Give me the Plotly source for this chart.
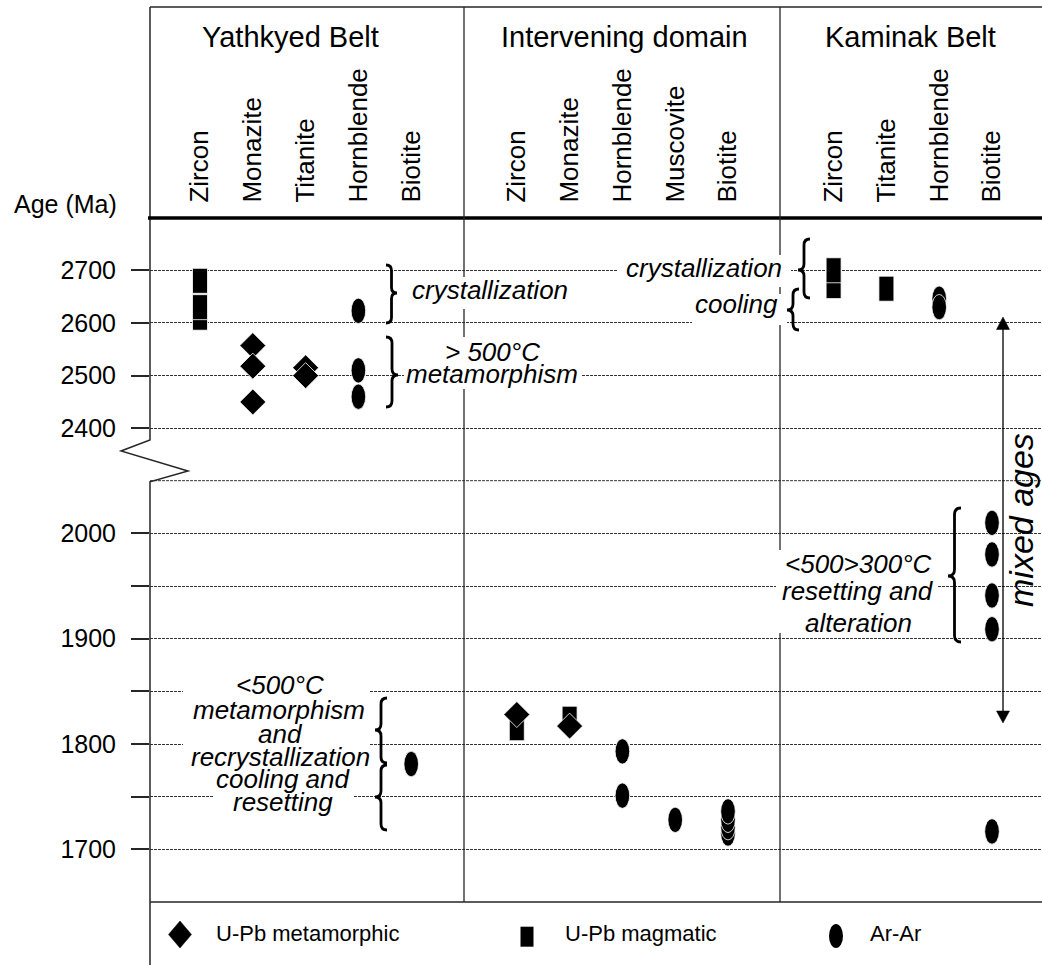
import plotly.graph_objects as go

W, H = 1042, 965
FONT = "Liberation Sans, Arial, Helvetica, sans-serif"
LINE = "#262626"

# ---------------- data ----------------
belts = ["Yathkyed Belt", "Intervening domain", "Kaminak Belt"]
minerals = ["Zircon", "Monazite", "Titanite", "Hornblende", "Biotite",
            "Zircon", "Monazite", "Hornblende", "Muscovite", "Biotite",
            "Zircon", "Titanite", "Hornblende", "Biotite"]
mineral_pos = [0, 1, 2, 3, 4, 6, 7, 8, 9, 10, 12, 13, 14, 15]

upper_ticks = [2400, 2500, 2600, 2700]
lower_ticks = [1700, 1750, 1800, 1850, 1900, 1950, 2000]
lower_ticktext = ["1700", "", "1800", "", "1900", "", "2000"]

# U-Pb magmatic (rectangles)
mag_col = [0, 0, 0, 12, 12, 13, 6, 7]
mag_age = [2610, 2630, 2680, 2670, 2700, 2665, 1815, 1824]
# U-Pb metamorphic (diamonds)
met_col = [1, 1, 1, 2, 2, 6, 7]
met_age = [2557, 2518, 2450, 2515, 2500, 1828, 1817]
# Ar-Ar (ellipses)
ar_col = [3, 3, 3, 4, 8, 8, 9, 10, 10, 10, 10, 14, 14, 15, 15, 15, 15, 15]
ar_age = [2623, 2510, 2460, 1781, 1793, 1751, 1728, 1715, 1721, 1728, 1736,
          2646, 2630, 2010, 1980, 1941, 1909, 1717]

BREAK = 2300  # ages above go on the upper (compressed) axis


def PX(x):
    return x / W


def PY(y):
    return 1 - y / H


fig = go.Figure()

# diamonds as traces
for upper in (True, False):
    xs = [c for c, a in zip(met_col, met_age) if (a > BREAK) == upper]
    ys = [a for a in met_age if (a > BREAK) == upper]
    fig.add_trace(go.Scatter(
        x=xs, y=ys, mode="markers",
        xaxis="x" if upper else "x2", yaxis="y" if upper else "y2",
        marker=dict(symbol="diamond", size=20, color="black",
                    line=dict(color="white", width=0.8)),
        hoverinfo="skip", showlegend=False))

shapes = []

# gridline at 2050 (no tick)
shapes.append(dict(type="line", xref="paper", yref="y2", x0=PX(150), x1=1,
                   y0=2050, y1=2050, layer="below",
                   line=dict(color="#333", width=1, dash="3px,1px")))

# rectangles & ellipses through the axes
for c, a in zip(mag_col, mag_age):
    up = a > BREAK
    shapes.append(dict(type="rect", xref="x" if up else "x2", yref="y" if up else "y2",
                       xsizemode="pixel", ysizemode="pixel", xanchor=c, yanchor=a,
                       x0=-7.5, x1=7.5, y0=-12.5, y1=12.5, layer="between",
                       fillcolor="black", line=dict(color="white", width=0.8)))
for c, a in zip(ar_col, ar_age):
    up = a > BREAK
    shapes.append(dict(type="circle", xref="x" if up else "x2", yref="y" if up else "y2",
                       xsizemode="pixel", ysizemode="pixel", xanchor=c, yanchor=a,
                       x0=-7.3, x1=7.3, y0=-12.7, y1=12.7, layer="between",
                       fillcolor="black", line=dict(color="white", width=0.8)))


def pline(x0, y0, x1, y1, w=1.4, color=LINE):
    shapes.append(dict(type="line", xref="paper", yref="paper",
                       x0=PX(x0), y0=PY(y0), x1=PX(x1), y1=PY(y1),
                       line=dict(color=color, width=w), layer="above"))


def ppath(pts, w=1.4, color=LINE, fill=None):
    d = "M " + " L ".join(f"{PX(x):.5f},{PY(y):.5f}" for x, y in pts)
    if fill:
        d += " Z"
    shapes.append(dict(type="path", xref="paper", yref="paper", path=d,
                       fillcolor=fill if fill else "rgba(0,0,0,0)",
                       line=dict(color=color, width=w), layer="above"))


def box(x0, y0, x1, y1):
    shapes.append(dict(type="rect", xref="paper", yref="paper",
                       x0=PX(x0), y0=PY(y1), x1=PX(x1), y1=PY(y0),
                       fillcolor="white", line=dict(width=0), layer="above"))


def brace(xo, ytop, ybot, ytip, w, d, lw=2.8):
    xm = xo + d * w / 2
    xt = xo + d * w
    r = w / 2

    def p(x, y):
        return f"{PX(x):.5f},{PY(y):.5f}"
    path = (f"M {p(xo, ytop)} Q {p(xm, ytop)} {p(xm, ytop + r)} "
            f"L {p(xm, ytip - r)} Q {p(xm, ytip)} {p(xt, ytip)} "
            f"Q {p(xm, ytip)} {p(xm, ytip + r)} L {p(xm, ybot - r)} "
            f"Q {p(xm, ybot)} {p(xo, ybot)}")
    shapes.append(dict(type="path", xref="paper", yref="paper", path=path,
                       line=dict(color="black", width=lw), layer="above"))


# frame
pline(150, 7, W, 7, 1.5)
ppath([(150, 7), (150, 440), (121, 451), (188, 471), (150, 481.7), (150, H)], 1.5)
pline(148, 218, W, 218, 3.5, "black")
pline(464, 7, 464, 902, 1.3)
pline(780, 7, 780, 902, 1.3)
pline(150, 902, W, 902, 1.5)

# white boxes behind labels
box(408, 277, 571, 309)
box(404, 337, 581, 389)
box(617, 255, 791, 287)
box(692, 294, 787, 325)
box(776, 550, 937, 633)
box(183, 675, 370, 768)
box(213, 768, 353, 818)

# braces
brace(386, 265, 323, 293, 11, +1)
brace(386, 337, 407, 375, 12, +1)
brace(810, 239, 298, 270, 12, -1)
brace(799, 289, 330, 310, 12, -1)
brace(961, 508, 642, 576, 13, -1)
brace(387, 698, 763, 730, 12, -1)
brace(387, 765, 830, 797, 12, -1)

# mixed ages arrow
pline(1003, 328, 1003, 712, 1.3, "black")
ppath([(1003, 317), (996.5, 329.5), (1009.5, 329.5)], 0.5, "black", "black")
ppath([(1003, 723), (996.5, 711), (1009.5, 711)], 0.5, "black", "black")

# legend symbols
ppath([(180, 921), (191.5, 934.5), (180, 948), (168.5, 934.5)], 0.5, "black", "black")
shapes.append(dict(type="rect", xref="paper", yref="paper",
                   x0=PX(520.5), x1=PX(533.5), y0=PY(946.7), y1=PY(926.7),
                   fillcolor="black", line=dict(width=0), layer="above"))
shapes.append(dict(type="circle", xref="paper", yref="paper",
                   x0=PX(829), x1=PX(843), y0=PY(948), y1=PY(924),
                   fillcolor="black", line=dict(width=0), layer="above"))

# ---------------- annotations ----------------
anns = []


def ann(text, x, y, size=26, italic=True, xanchor="center", angle=0):
    t = f"<i>{text}</i>" if italic else text
    anns.append(dict(text=t, x=PX(x), y=PY(y), xref="paper", yref="paper",
                     xanchor=xanchor, yanchor="middle", showarrow=False,
                     textangle=angle,
                     font=dict(family=FONT, size=size, color="black")))


belt_x = [290, 624, 910]
for name, bx in zip(belts, belt_x):
    ann(name, bx, 37, 29, False)
ann("Age (Ma)", 65, 204, 25, False)

ann("crystallization", 490, 289.5)
ann("&gt; 500°C", 492, 352.5)
ann("metamorphism", 492, 373.5)
ann("crystallization", 704, 267.5)
ann("cooling", 736, 304)
ann("&lt;500&gt;300°C", 858, 564)
ann("resetting and", 858, 590.5)
ann("alteration", 858, 622.5)
ann("&lt;500°C", 280, 685)
ann("metamorphism", 279, 709.5)
ann("and", 280, 733.5)
ann("recrystallization", 280, 756.5)
ann("cooling and", 283, 778.5)
ann("resetting", 283, 801.5)
ann("mixed ages", 1021, 520, 34, True, angle=-90)

ann("U-Pb metamorphic", 214, 933, 22, False, "left")
ann("U-Pb magmatic", 563, 933, 22, False, "left")
ann("Ar-Ar", 868, 933, 22, False, "left")

# ---------------- layout ----------------
xr = [-50 / 52.8, 842 / 52.8]
tickfont = dict(family=FONT, size=25, color="black")
yax_common = dict(ticks="outside", ticklen=18, tickwidth=1.5, tickcolor=LINE,
                  showgrid=True, gridcolor="#333", gridwidth=1, griddash="3px,1px",
                  zeroline=False, showline=False, tickfont=tickfont,
                  ticklabelstandoff=10, automargin=False, fixedrange=True)

fig.update_layout(
    width=W, height=H, template="none",
    margin=dict(l=0, r=0, t=0, b=0, pad=0),
    paper_bgcolor="white", plot_bgcolor="rgba(0,0,0,0)",
    showlegend=False,
    xaxis=dict(domain=[PX(150), 1], range=xr, anchor="y", side="top",
               tickvals=mineral_pos, ticktext=minerals, tickangle=-90,
               tickfont=dict(family=FONT, size=26, color="black"), ticks="",
               showgrid=False, zeroline=False,
               showline=False, ticklabelstandoff=14, automargin=False, fixedrange=True),
    xaxis2=dict(domain=[PX(150), 1], range=xr, anchor="y2", visible=False,
                fixedrange=True),
    yaxis=dict(domain=[PY(440), PY(217.6)], range=[2377.8, 2800], anchor="x",
               tickvals=upper_ticks, **yax_common),
    yaxis2=dict(domain=[PY(902), PY(470)], range=[1650, 2060.16], anchor="x2",
                tickvals=lower_ticks, ticktext=lower_ticktext, **yax_common),
    shapes=shapes, annotations=anns,
)

fig.write_html("out.html", include_plotlyjs=True,
               config={"displayModeBar": False},
               post_script="document.body.style.margin='0px';document.body.style.overflow='hidden';")
